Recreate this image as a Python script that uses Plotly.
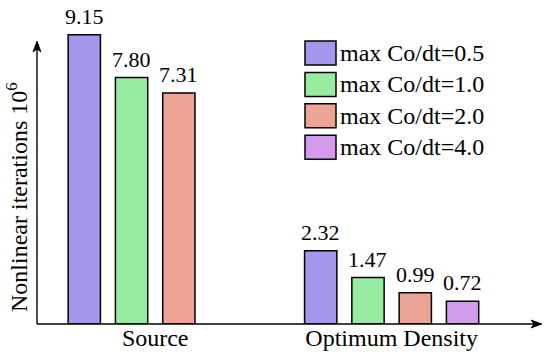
import plotly.graph_objects as go

# ---- data ----
groups = ["Source", "Optimum Density"]
series_names = ["max Co/dt=0.5", "max Co/dt=1.0", "max Co/dt=2.0", "max Co/dt=4.0"]
series_values = [
    [9.15, 2.32],
    [7.80, 1.47],
    [7.31, 0.99],
    [None, 0.72],
]
colors = ["#A398EC", "#98ECA0", "#ECA595", "#D49AEC"]
y_title = "Nonlinear iterations 10<sup>6</sup>"

FONT = "Liberation Serif"
FS = 22
FL = 24
BARGAP = 0.2
BARGROUPGAP = 0.317
slot = (1 - BARGAP) / len(series_names)
xpos = list(range(len(groups)))

fig = go.Figure()
annots = []
for s, name in enumerate(series_names):
    fig.add_trace(go.Bar(
        x=xpos, y=series_values[s], name=name,
        marker=dict(color=colors[s], line=dict(color="black", width=1.5)),
        showlegend=False, cliponaxis=False,
    ))
    for g, v in enumerate(series_values[s]):
        if v is None:
            continue
        annots.append(dict(xref="x", yref="y", x=g + (s - (len(series_names) - 1) / 2) * slot,
                           y=v, yshift=4, text=f"{v:.2f}", showarrow=False,
                           xanchor="center", yanchor="bottom",
                           font=dict(family=FONT, size=FS, color="black")))

H = 357
top, base = 10, 324
ph = base - top
def py(p):
    return (base - p) / ph

shapes = []
# manual legend (large swatches)
x0p, x1p, xtext = (305 - 37) / 505, (336 - 37) / 505, (338 - 37) / 505
for i, name in enumerate(series_names):
    t = 41 + i * 31.4
    b = t + 24
    shapes.append(dict(type="rect", xref="paper", yref="paper", x0=x0p, x1=x1p,
                       y0=py(b), y1=py(t), fillcolor=colors[i],
                       line=dict(color="black", width=1.5)))
    annots.append(dict(xref="paper", yref="paper", x=xtext, y=py((t + b) / 2),
                       text=name, showarrow=False, xanchor="left", yanchor="middle",
                       font=dict(family=FONT, size=FL, color="black")))

# axis lines with arrowheads
ytip = py(41)
shapes.append(dict(type="line", xref="paper", yref="paper", x0=0, x1=0, y0=0, y1=ytip - 0.02,
                   line=dict(color="black", width=1.4)))
shapes.append(dict(type="line", xref="paper", yref="paper", x0=0, x1=0.99, y0=0, y1=0,
                   line=dict(color="black", width=1.4)))
shapes.append(dict(type="path", xref="paper", yref="paper", xsizemode="pixel", ysizemode="pixel",
                   xanchor=0, yanchor=ytip, path="M0,0 L-4,-11 L0,-8 L4,-11 Z",
                   fillcolor="black", line=dict(color="black", width=0.8)))
shapes.append(dict(type="path", xref="paper", yref="paper", xsizemode="pixel", ysizemode="pixel",
                   xanchor=1, yanchor=0, path="M0,0 L-11,4 L-8,0 L-11,-4 Z",
                   fillcolor="black", line=dict(color="black", width=0.8)))
# y title
annots.append(dict(xref="paper", yref="paper", x=(17 - 37) / 505, y=py(197),
                   text=y_title, showarrow=False, textangle=-90,
                   xanchor="center", yanchor="middle",
                   font=dict(family=FONT, size=FL, color="black")))

fig.update_layout(
    width=550, height=H,
    margin=dict(l=37, r=8, t=top, b=H - base, pad=0, autoexpand=False),
    plot_bgcolor="white", paper_bgcolor="white",
    barmode="group", bargap=BARGAP, bargroupgap=BARGROUPGAP, showlegend=False,
    font=dict(family=FONT, size=FS, color="black"),
    xaxis=dict(range=[-0.5, 1.636], tickvals=xpos, ticktext=groups,
               showgrid=False, zeroline=False, showline=False, ticks="",
               automargin=False, ticklabelstandoff=-3,
               tickfont=dict(family=FONT, size=FL, color="black")),
    yaxis=dict(range=[0, ph / 31.6], showgrid=False, zeroline=False,
               showline=False, showticklabels=False, ticks="", automargin=False),
    shapes=shapes, annotations=annots,
)

fig.write_html("out.html", config={"displayModeBar": False},
               post_script="document.body.style.margin='0';document.body.style.overflow='hidden';")
